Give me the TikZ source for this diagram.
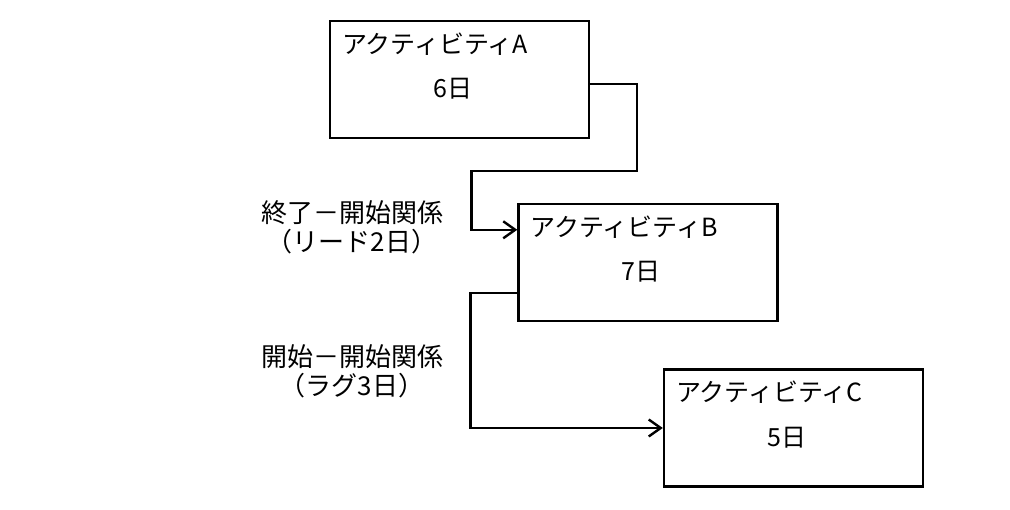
\documentclass[tikz,border=0pt]{standalone}
\usepackage{fontspec}
\setmainfont{Noto Sans CJK JP}
\usetikzlibrary{arrows.meta, positioning, calc}

\begin{document}
\begin{tikzpicture}[x=1pt, y=1pt,
    actbox/.style={draw, line width=2.4pt, minimum width=259pt, minimum height=117pt, inner sep=0pt},
    acttext/.style={font=\fontsize{25}{29}\selectfont, inner sep=0pt},
    link/.style={line width=2.4pt, -{Straight Barb[length=12pt, width=17pt, line width=2.4pt]}}]
    \useasboundingbox (0,0) rectangle (1010,510);

    % Activity boxes
    \node[actbox] (A) at (459.5,430.5) {};
    \node[actbox] (B) at (648,247.5) {};
    \node[actbox] (C) at (793.5,82) {};

    % Names and durations
    \foreach \n/\d in {A/6, B/7, C/5} {
        \node[acttext, anchor=west] (\n name) at ($(\n.north west)+(13,-24)$) {アクティビティ\n};
        \node[acttext] (\n days) at ($(\n.north west)+(124,-69)$) {\d 日};
    }

    % Dependencies
    \coordinate (Aout) at ($(A.north east)+(0,-64)$);
    \coordinate (Bin) at ($(B.north west)+(0,-27)$);
    \coordinate (Bout) at ($(B.south west)+(0,29)$);
    \draw[link] (Aout) -- ++(47,0) |- ($(Bin)+(-46,59)$) |- (Bin);
    \draw[link] (Bout) -- ++(-47,0) |- (C.west);

    % Relation labels
    \node[acttext, font=\fontsize{26}{29}\selectfont, align=center] (fslabel) at (352,283) {終了－開始関係\\（リード2日）};
    \node[acttext, font=\fontsize{26}{29}\selectfont, align=center] (sslabel) at (352,139) {開始－開始関係\\（ラグ3日）};
\end{tikzpicture}
\end{document}
